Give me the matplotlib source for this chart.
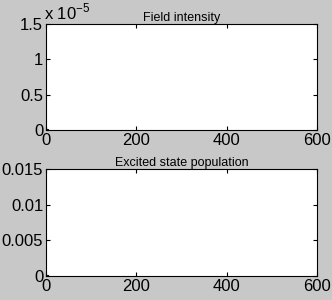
import matplotlib
matplotlib.use("Agg")
import matplotlib.pyplot as plt

# Data
time_steps = [0, 1, 2, 3, 4]
field_intensity = [1.0e-7, 0.6e-7, 0.3e-7, 0.1e-7, 0.0]
excited_population = [0.0, 0.0, 0.0, 0.0, 0.0]

x_ticks = [0, 200, 400, 600]
top_yticks = [0, 0.5e-5, 1.0e-5, 1.5e-5]
top_ylabels = ["0", "0.5", "1", "1.5"]
bot_yticks = [0, 0.005, 0.01, 0.015]
bot_ylabels = ["0", "0.005", "0.01", "0.015"]

plt.rcParams['font.family'] = ['Liberation Sans', 'DejaVu Sans']
bg = '#c8c8c8'
fig = plt.figure(figsize=(3.32, 3.0), dpi=100, facecolor=bg)

W, H = 332, 300
def add_ax(l, t, r, b):
    return fig.add_axes([l / W, 1 - b / H, (r - l) / W, (b - t) / H])

ax1 = add_ax(46, 24, 317, 130)
ax2 = add_ax(46, 169, 317, 276)

for ax, y, yt, yl, ttl, ylim in [
    (ax1, field_intensity, top_yticks, top_ylabels, "Field intensity", (0, 1.5e-5)),
    (ax2, excited_population, bot_yticks, bot_ylabels, "Excited state population", (0, 0.015)),
]:
    ax.set_facecolor('white')
    ax.plot(time_steps, y, color='#00007f', lw=1.5)
    ax.set_xlim(0, 600)
    ax.set_ylim(*ylim)
    ax.set_xticks(x_ticks)
    ax.set_yticks(yt)
    ax.set_yticklabels(yl)
    ax.tick_params(direction='in', length=3, width=0.8, top=True, right=True,
                   labelsize=12, pad=2, colors='black')
    for s in ax.spines.values():
        s.set_linewidth(0.8)
    ax.set_title(ttl, fontsize=9, pad=2)

fig.text(44 / W, 1 - 12 / H, r"x 10$^{\mathregular{-5}}$", fontsize=12, va='center', ha='left')

fig.savefig("out.png", dpi=100, facecolor=bg)
